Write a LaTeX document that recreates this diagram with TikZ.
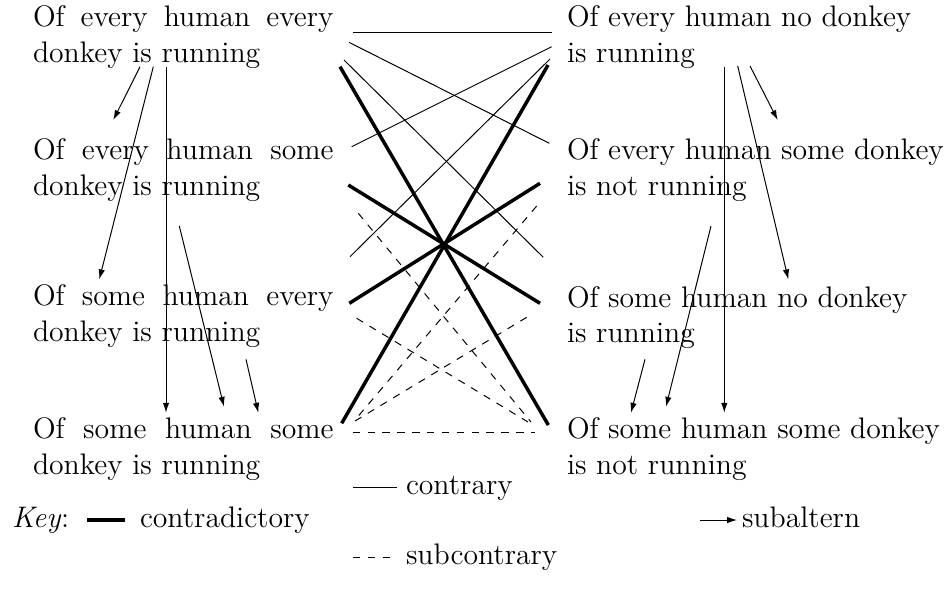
\documentclass[tikz,border=0pt]{standalone}
\usetikzlibrary{arrows.meta}
\begin{document}
\begin{tikzpicture}[x=0.4039pt,y=-0.4039pt,
  prop/.style={anchor=base west,inner sep=0pt,outer sep=0pt,font=\fontsize{12}{14.5}\selectfont},
  keytext/.style={anchor=base west,inner sep=0pt,outer sep=0pt,font=\fontsize{12}{14.5}\selectfont},
  contrary/.style={line width=0.4pt},
  contradictory/.style={line width=1.4pt},
  subcontrary/.style={line width=0.4pt,dashed},
  subaltern/.style={line width=0.4pt,-{Latex[length=4pt,width=2.6pt]}}]
\useasboundingbox (0,0) rectangle (945,605);

% propositions
\node[prop] (L1) at (33,26.7) {\parbox[t]{121.4pt}{\tolerance=10000 Of every human every donkey is running}};
\node[prop] (L2) at (33,159.5) {\parbox[t]{121.4pt}{\tolerance=10000 Of every human some donkey is running}};
\node[prop] (L3) at (33,305.5) {\parbox[t]{121.4pt}{\tolerance=10000 Of some human every donkey is running}};
\node[prop] (L4) at (33,438.5) {\parbox[t]{121.4pt}{\tolerance=10000 Of some human some donkey is running}};
\node[prop] (R1) at (567,26.7) {\parbox[t]{200pt}{\raggedright Of every human no donkey\\ is running}};
\node[prop] (R2) at (567,159.5) {\parbox[t]{200pt}{\raggedright Of every human some donkey\\ is not running}};
\node[prop] (R3) at (567,307) {\parbox[t]{200pt}{\raggedright Of some human no donkey\\ is running}};
\node[prop] (R4) at (567,438.5) {\parbox[t]{200pt}{\raggedright Of some human some donkey\\ is not running}};

% attachment points
\coordinate (c1a) at (352.7,32.3); \coordinate (c1b) at (551.7,32.3);
\coordinate (c2a) at (349,42.3);   \coordinate (c2b) at (549.3,143.3);
\coordinate (c3a) at (551.7,46.7); \coordinate (c3b) at (351.7,146.7);
\coordinate (c4a) at (344,60);     \coordinate (c4b) at (543.3,257.3);
\coordinate (c5a) at (550,59);     \coordinate (c5b) at (350,256.7);
\coordinate (k1a) at (340,66.7);   \coordinate (k1b) at (548.3,425);
\coordinate (k2a) at (548,65);     \coordinate (k2b) at (341.7,423.3);
\coordinate (k3a) at (348.3,185);  \coordinate (k3b) at (540,303.3);
\coordinate (k4a) at (540,183.3);  \coordinate (k4b) at (349.3,303.3);
\coordinate (s1a) at (358.3,213.3); \coordinate (s1b) at (531,422);
\coordinate (s2a) at (536.7,206);   \coordinate (s2b) at (355,420);
\coordinate (s3a) at (356.7,318.3); \coordinate (s3b) at (528,422);
\coordinate (s4a) at (526.7,317.3); \coordinate (s4b) at (355,421);
\coordinate (s5a) at (352.7,432.3); \coordinate (s5b) at (535,432.3);

% contraries
\draw[contrary] (c1a) -- (c1b);
\draw[contrary] (c2a) -- (c2b);
\draw[contrary] (c3a) -- (c3b);
\draw[contrary] (c4a) -- (c4b);
\draw[contrary] (c5a) -- (c5b);
% contradictories
\draw[contradictory] (k1a) -- (k1b);
\draw[contradictory] (k2a) -- (k2b);
\draw[contradictory] (k3a) -- (k3b);
\draw[contradictory] (k4a) -- (k4b);
% subcontraries
\draw[subcontrary] (s1a) -- (s1b);
\draw[subcontrary] (s2a) -- (s2b);
\draw[subcontrary] (s3a) -- (s3b);
\draw[subcontrary] (s4a) -- (s4b);
\draw[subcontrary] (s5a) -- (s5b);

% subalterns (left)
\coordinate (a1a) at (140,66.7);  \coordinate (a1b) at (113.3,120);
\coordinate (a2a) at (153.3,66.7); \coordinate (a2b) at (99.3,279.3);
\coordinate (a3a) at (166,67);    \coordinate (a3b) at (166,412.7);
\coordinate (a4a) at (179.3,226); \coordinate (a4b) at (224,406.7);
\coordinate (a5a) at (246,359.3); \coordinate (a5b) at (258.3,412.7);
\draw[subaltern] (a1a) -- (a1b);
\draw[subaltern] (a2a) -- (a2b);
\draw[subaltern] (a3a) -- (a3b);
\draw[subaltern] (a4a) -- (a4b);
\draw[subaltern] (a5a) -- (a5b);
% subalterns (right)
\coordinate (b1a) at (724.3,66.7); \coordinate (b1b) at (724.3,412.7);
\coordinate (b2a) at (737.7,66);   \coordinate (b2b) at (788.3,279.3);
\coordinate (b3a) at (750,66);     \coordinate (b3b) at (777.7,120);
\coordinate (b4a) at (711,226);    \coordinate (b4b) at (666,406.7);
\coordinate (b5a) at (645,359.3);  \coordinate (b5b) at (631,412.7);
\draw[subaltern] (b1a) -- (b1b);
\draw[subaltern] (b2a) -- (b2b);
\draw[subaltern] (b3a) -- (b3b);
\draw[subaltern] (b4a) -- (b4b);
\draw[subaltern] (b5a) -- (b5b);

% key
\node[keytext] (key) at (12,527) {\emph{Key}:};
\coordinate (kyA) at (87,520); \coordinate (kyB) at (125,520);
\draw[contradictory] (kyA) -- (kyB);
\node[keytext] (kyT) at (140,527) {contradictory};
\coordinate (kcA) at (353,487); \coordinate (kcB) at (397,487);
\draw[contrary] (kcA) -- (kcB);
\node[keytext] (kcT) at (406,494) {contrary};
\coordinate (ksA) at (353,557); \coordinate (ksB) at (397,557);
\draw[subcontrary] (ksA) -- (ksB);
\node[keytext] (ksT) at (406,564) {subcontrary};
\coordinate (kaA) at (700,520); \coordinate (kaB) at (737,520);
\draw[subaltern] (kaA) -- (kaB);
\node[keytext] (kaT) at (742,527) {subaltern};
\end{tikzpicture}
\end{document}
